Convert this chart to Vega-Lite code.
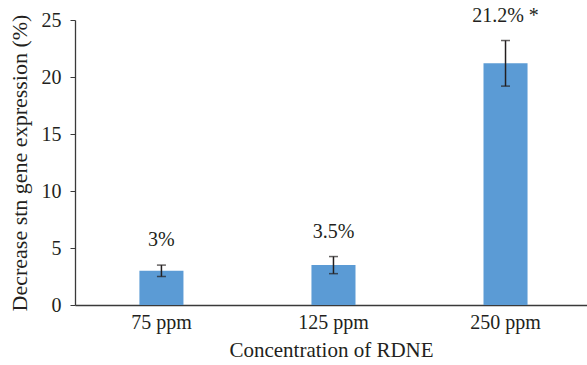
{
  "$schema": "https://vega.github.io/schema/vega-lite/v6.json",
  "width": 512,
  "height": 285,
  "autosize": {"type": "none"},
  "padding": {"left": 75, "top": 20, "right": 0, "bottom": 60},
  "background": "white",
  "config": {
    "view": {"stroke": null},
    "font": "Liberation Serif, Times New Roman, serif",
    "axis": {
      "labelFont": "Liberation Serif, Times New Roman, serif",
      "titleFont": "Liberation Serif, Times New Roman, serif",
      "labelColor": "#231f20",
      "titleColor": "#231f20",
      "domainColor": "#3a3a3a",
      "tickColor": "#3a3a3a",
      "grid": false,
      "titleFontWeight": "normal"
    }
  },
  "data": {
    "values": [
      {"conc": "75 ppm", "value": 3.0, "lo": 2.5, "hi": 3.5, "label": "3%"},
      {"conc": "125 ppm", "value": 3.5, "lo": 2.75, "hi": 4.25, "label": "3.5%"},
      {"conc": "250 ppm", "value": 21.2, "lo": 19.2, "hi": 23.2, "label": "21.2% *"}
    ]
  },
  "encoding": {
    "x": {
      "field": "conc",
      "type": "nominal",
      "sort": null,
      "scale": {"paddingInner": 0.744, "paddingOuter": 0.36, "align": 0.52},
      "axis": {
        "title": "Concentration of RDNE",
        "labelAngle": 0,
        "ticks": false,
        "labelFontSize": 20,
        "labelPadding": 7,
        "titleFontSize": 21,
        "titlePadding": 7,
        "domainWidth": 1.3
      }
    }
  },
  "layer": [
    {
      "mark": {"type": "bar", "color": "#5b9bd5"},
      "encoding": {
        "y": {
          "field": "value",
          "type": "quantitative",
          "scale": {"domain": [0, 25], "padding": 0, "nice": false},
          "axis": {
            "title": "Decrease stn gene expression (%)",
            "values": [0, 5, 10, 15, 20, 25],
            "labelFontSize": 20,
            "titleFontSize": 22,
            "tickSize": 5,
            "labelPadding": 9,
            "titlePadding": 10,
            "domainWidth": 1.3
          }
        }
      }
    },
    {
      "mark": {"type": "rule", "color": "#231f20", "strokeWidth": 1.5},
      "encoding": {
        "y": {"field": "lo", "type": "quantitative"},
        "y2": {"field": "hi"}
      }
    },
    {
      "mark": {"type": "tick", "color": "#231f20", "thickness": 1.5, "size": 9, "orient": "horizontal"},
      "encoding": {"y": {"field": "lo", "type": "quantitative"}}
    },
    {
      "mark": {"type": "tick", "color": "#231f20", "thickness": 1.5, "size": 9, "orient": "horizontal"},
      "encoding": {"y": {"field": "hi", "type": "quantitative"}}
    },
    {
      "mark": {"type": "text", "color": "#231f20", "fontSize": 20, "baseline": "middle", "dy": -25},
      "encoding": {
        "y": {"field": "hi", "type": "quantitative"},
        "text": {"field": "label"}
      }
    }
  ]
}
